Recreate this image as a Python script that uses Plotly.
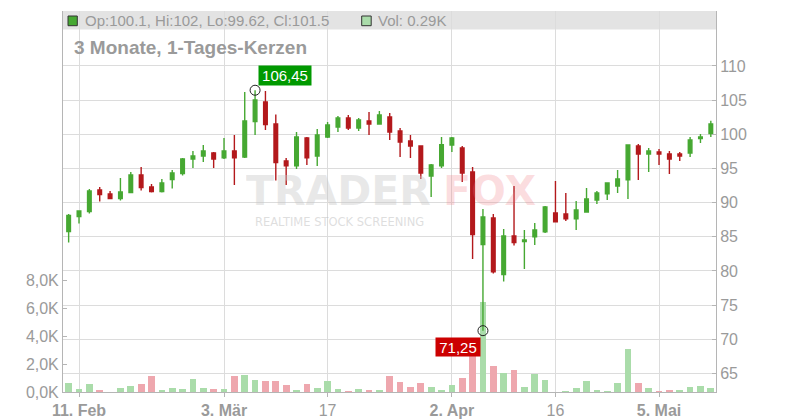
import plotly.graph_objects as go

# ---------------- data ----------------
dates = [
    "2025-02-10", "2025-02-11", "2025-02-12", "2025-02-13", "2025-02-14",
    "2025-02-17", "2025-02-18", "2025-02-19", "2025-02-20", "2025-02-21",
    "2025-02-24", "2025-02-25", "2025-02-26", "2025-02-27", "2025-02-28",
    "2025-03-03", "2025-03-04", "2025-03-05", "2025-03-06", "2025-03-07",
    "2025-03-10", "2025-03-11", "2025-03-12", "2025-03-13", "2025-03-14",
    "2025-03-17", "2025-03-18", "2025-03-19", "2025-03-20", "2025-03-21",
    "2025-03-24", "2025-03-25", "2025-03-26", "2025-03-27", "2025-03-28",
    "2025-03-31", "2025-04-01", "2025-04-02", "2025-04-03", "2025-04-04",
    "2025-04-07", "2025-04-08", "2025-04-09", "2025-04-10", "2025-04-11",
    "2025-04-14", "2025-04-15", "2025-04-16", "2025-04-17", "2025-04-22",
    "2025-04-23", "2025-04-24", "2025-04-25", "2025-04-28", "2025-04-29",
    "2025-04-30", "2025-05-02", "2025-05-05", "2025-05-06", "2025-05-07",
    "2025-05-08", "2025-05-09", "2025-05-12",
]

opens = [
    85.76, 87.95, 88.68, 91.85, 91.27, 90.59, 91.46, 94.05, 92.29, 91.61,
    93.37, 94.24, 96.39, 96.83, 97.27, 96.54, 97.56, 96.68, 101.85, 104.73,
    101.51, 96.10, 95.37, 99.46, 96.83, 99.61, 101.07, 102.39, 100.93, 101.95,
    101.51, 102.54, 100.49, 99.02, 98.29, 93.90, 95.37, 98.44, 98.00, 94.49,
    83.85, 87.76, 79.46, 85.12, 84.29, 84.98, 85.71, 88.49, 88.34, 87.61,
    88.63, 90.39, 91.27, 92.44, 93.32, 98.29, 97.12, 97.41, 97.12, 97.12,
    97.27, 99.37, 100.10,
]
highs = [
    88.34, 88.80, 92.00, 92.29, 91.70, 93.61, 94.49, 95.22, 92.73, 93.46,
    94.78, 96.54, 97.56, 98.44, 97.41, 99.46, 99.90, 106.20, 106.45, 106.34,
    102.88, 96.54, 100.34, 99.61, 100.78, 101.80, 102.68, 102.83, 102.39, 103.27,
    103.41, 103.12, 100.93, 99.90, 98.29, 95.66, 99.61, 99.61, 98.29, 95.22,
    89.07, 88.34, 86.15, 92.44, 86.00, 87.02, 89.51, 93.17, 91.41, 90.24,
    92.15, 91.71, 92.88, 94.78, 98.44, 98.59, 98.00, 97.85, 97.56, 97.41,
    99.61, 100.05, 102.00,
]
lows = [
    84.15, 86.93, 88.39, 90.15, 90.59, 90.29, 91.46, 91.76, 91.46, 91.46,
    92.05, 93.95, 95.07, 95.95, 95.07, 96.39, 92.59, 96.54, 99.90, 100.63,
    93.22, 92.59, 94.93, 95.51, 95.37, 99.46, 100.34, 100.63, 100.49, 99.90,
    101.51, 99.17, 96.68, 96.54, 93.46, 90.83, 95.07, 97.41, 93.02, 81.76,
    71.25, 79.61, 78.44, 83.71, 80.29, 83.80, 85.56, 87.17, 87.32, 86.00,
    88.63, 89.80, 90.39, 91.41, 90.54, 93.32, 94.49, 95.51, 94.20, 96.10,
    96.68, 98.73, 99.62,
]
closes = [
    88.10, 88.78, 91.71, 91.17, 90.59, 91.56, 94.05, 92.20, 91.61, 92.88,
    94.34, 96.39, 96.83, 97.56, 96.39, 97.56, 96.54, 101.95, 105.02, 101.41,
    95.85, 95.37, 99.61, 96.54, 99.90, 101.37, 102.39, 100.93, 102.10, 101.51,
    102.83, 100.34, 98.88, 98.29, 94.34, 95.51, 98.46, 99.46, 94.34, 85.32,
    87.90, 79.85, 85.12, 84.15, 84.54, 86.00, 89.37, 87.17, 87.61, 88.93,
    90.54, 91.41, 92.88, 93.46, 98.44, 97.12, 97.56, 97.12, 96.39, 96.83,
    99.17, 99.61, 101.50,
]
volumes_k = [
    0.62, 0.19, 0.55, 0.12, 0.00, 0.26, 0.40, 0.55, 1.12, 0.12,
    0.26, 0.19, 0.90, 0.26, 0.19, 0.19, 1.12, 1.19, 0.83, 0.76,
    0.76, 0.48, 0.12, 0.55, 0.26, 0.76, 0.19, 0.05, 0.19, 0.12,
    0.12, 1.12, 0.69, 0.33, 0.62, 0.33, 0.12, 0.48, 0.98, 2.55,
    6.40, 1.83, 1.33, 1.55, 0.33, 1.26, 0.83, 0.00, 0.05, 0.26,
    0.76, 0.12, 0.05, 0.62, 3.05, 0.62, 0.26, 0.05, 0.12, 0.12,
    0.33, 0.40, 0.29,
]

tick_dates = ["2025-02-11", "2025-03-03", "2025-03-17", "2025-04-02", "2025-04-16", "2025-05-05"]
tick_labels = ["<b>11. Feb</b>", "<b>3. Mär</b>", "17", "<b>2. Apr</b>", "16", "<b>5. Mai</b>"]
price_ticks = [65, 70, 75, 80, 85, 90, 95, 100, 105, 110]
volume_ticks = [0, 2, 4, 6, 8]
volume_tick_labels = [f"{v:.1f}".replace(".", ",") + "K" for v in volume_ticks]
title_text = "3 Monate, 1-Tages-Kerzen"

# ---------------- styles ----------------
FONT = "Liberation Sans, Arial, sans-serif"
WFONT = "DejaVu Sans, Verdana, sans-serif"
GREEN = "#46a832"
RED = "#b3191c"
VGREEN = "#aadcaa"
VRED = "#eea7ae"
GRID = "#dcdcdc"
AXIS = "#b5b5b5"
TXT = "#9a9a9a"

vol_colors = [VGREEN] + [VGREEN if closes[i] >= closes[i - 1] else VRED for i in range(1, len(closes))]

i_hi = max(range(len(highs)), key=lambda i: highs[i])
i_lo = min(range(len(lows)), key=lambda i: lows[i])
fmt = lambda v: f"{v:.2f}".replace(".", ",")

PW, PH, L, B = 653, 381, 63, 392  # plot box in pixels (left, bottom)
px = lambda x: (x - L) / PW
py = lambda y: (B - y) / PH

fig = go.Figure()

fig.add_trace(go.Bar(
    x=dates, y=volumes_k, marker=dict(color=vol_colors, line=dict(width=0)),
    width=0.65, yaxis="y", hoverinfo="skip", showlegend=False,
))

fig.add_trace(go.Candlestick(
    x=dates, open=opens, high=highs, low=lows, close=closes,
    increasing=dict(line=dict(color=GREEN, width=1.4), fillcolor=GREEN),
    decreasing=dict(line=dict(color=RED, width=1.4), fillcolor=RED),
    whiskerwidth=0, yaxis="y2", showlegend=False,
))

fig.add_trace(go.Scatter(
    x=[dates[i_hi], dates[i_lo]], y=[highs[i_hi], lows[i_lo]], mode="markers",
    marker=dict(size=10, color="rgba(0,0,0,0)", line=dict(color="#222222", width=1)),
    yaxis="y2", showlegend=False, hoverinfo="skip",
))

annotations = [
    # watermark
    dict(text="<b>TRADER</b>", x=px(338), y=py(190.5), xref="paper", yref="paper",
         showarrow=False, height=34, borderpad=0,
         font=dict(family=WFONT, size=41, color="rgba(200,200,200,0.42)")),
    dict(text="<b>FOX</b>", x=px(489), y=py(190.5), xref="paper", yref="paper",
         showarrow=False, height=34, borderpad=0,
         font=dict(family=WFONT, size=41, color="rgba(240,120,130,0.25)")),
    dict(text="REALTIME STOCK SCREENING", x=px(339), y=py(221.5), xref="paper", yref="paper",
         showarrow=False, height=10, borderpad=0,
         font=dict(family=WFONT, size=11.5, color="rgba(190,190,190,0.5)")),
    # header
    dict(text="Op:100.1, Hi:102, Lo:99.62, Cl:101.5", x=px(83), y=py(20.5),
         xref="paper", yref="paper", xanchor="left", yanchor="middle", showarrow=False,
         font=dict(family=FONT, size=15, color=TXT)),
    dict(text="Vol: 0.29K", x=px(375.5), y=py(20.5),
         xref="paper", yref="paper", xanchor="left", yanchor="middle", showarrow=False,
         font=dict(family=FONT, size=15, color=TXT)),
    dict(text="<b>" + title_text + "</b>", x=px(71.5), y=py(47.5),
         xref="paper", yref="paper", xanchor="left", yanchor="middle", showarrow=False,
         font=dict(family=FONT, size=19, color=TXT)),
    # price labels
    dict(text=fmt(highs[i_hi]), x=dates[i_hi], y=highs[i_hi], xref="x", yref="y2",
         xanchor="left", yanchor="bottom", xshift=3, yshift=4, showarrow=False,
         bgcolor="#009900", width=50, height=17, borderpad=1,
         font=dict(family=FONT, size=15, color="white")),
    dict(text=fmt(lows[i_lo]), x=dates[i_lo], y=lows[i_lo], xref="x", yref="y2",
         xanchor="right", yanchor="top", xshift=-2, yshift=-6, showarrow=False,
         bgcolor="#cc0000", width=42, height=16, borderpad=1,
         font=dict(family=FONT, size=15, color="white")),
]

shapes = [
    dict(type="rect", xref="paper", yref="paper", x0=0, x1=1, y0=py(29.5), y1=1,
         fillcolor="#e3e3e3", line=dict(width=0), layer="below"),
    dict(type="rect", xref="paper", yref="paper", x0=px(68), x1=px(77.3),
         y0=py(25.7), y1=py(16),
         fillcolor=GREEN, line=dict(color="#333333", width=1)),
    dict(type="rect", xref="paper", yref="paper", x0=px(361.7), x1=px(371.2),
         y0=py(25.7), y1=py(16),
         fillcolor=VGREEN, line=dict(color="#333333", width=1)),
]

fig.update_layout(
    width=800, height=420, autosize=False,
    margin=dict(l=63, r=84, t=11, b=28, pad=0),
    paper_bgcolor="white", plot_bgcolor="white",
    separators=",.",
    boxgap=0.5,
    bargap=0,
    showlegend=False,
    font=dict(family=FONT, color=TXT),
    xaxis=dict(
        type="category", range=[-0.545, 62.5], tickvals=tick_dates, ticktext=tick_labels,
        showgrid=True, gridcolor=GRID, gridwidth=1, showline=True, linecolor=AXIS,
        ticks="outside", ticklen=4, tickcolor=AXIS, tickfont=dict(family=FONT, size=16, color=TXT),
        rangeslider=dict(visible=False), zeroline=False, automargin=False,
    ),
    yaxis=dict(
        range=[0, 381 / 14], side="left", tickvals=volume_ticks, ticktext=volume_tick_labels,
        showgrid=False, showline=True, linecolor=AXIS, ticks="inside", ticklen=4, tickcolor=AXIS,
        tickfont=dict(family=FONT, size=16, color=TXT), zeroline=False, automargin=False,
    ),
    yaxis2=dict(
        range=[62.27, 118.05], overlaying="y", side="right", tickvals=price_ticks,
        showgrid=True, gridcolor=GRID, gridwidth=1, showline=True, linecolor=AXIS,
        ticks="inside", ticklen=4, tickcolor=AXIS,
        tickfont=dict(family=FONT, size=16, color=TXT), zeroline=False, automargin=False,
    ),
    annotations=annotations,
    shapes=shapes,
)

fig.write_html("out.html", config={"displayModeBar": False},
               post_script="document.body.style.margin='0px';")
